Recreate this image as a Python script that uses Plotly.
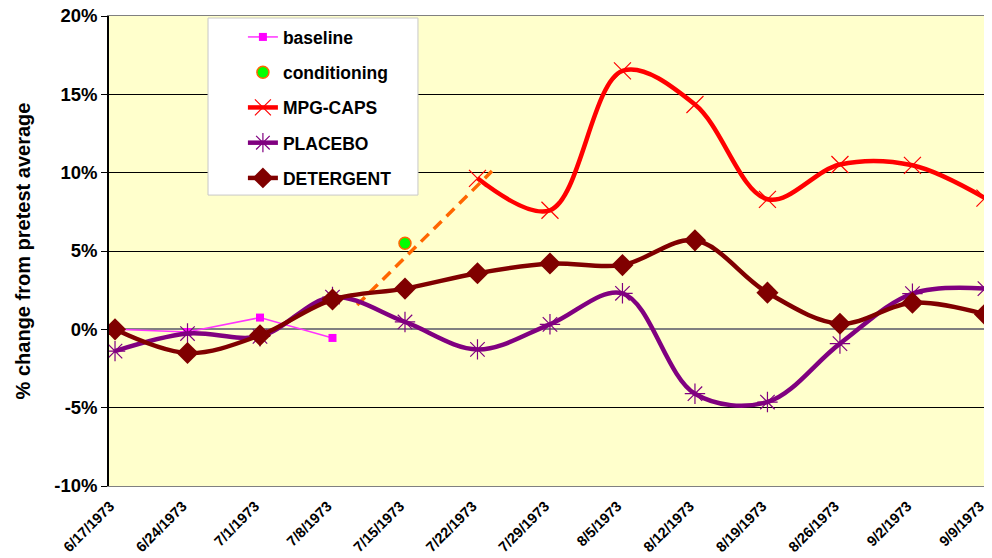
import plotly.graph_objects as go

dates = ["6/17/1973", "6/24/1973", "7/1/1973", "7/8/1973", "7/15/1973", "7/22/1973",
         "7/29/1973", "8/5/1973", "8/12/1973", "8/19/1973", "8/26/1973", "9/2/1973", "9/9/1973"]
idx = list(range(len(dates)))

baseline = [0.0, -0.17, 0.75, -0.55]
conditioning_x = [4]
conditioning = [5.5]
mpg_caps = [None, None, None, None, None, 9.64, 7.6, 16.5, 14.35, 8.3, 10.52, 10.47, 8.38]
placebo = [-1.39, -0.27, -0.45, 2.06, 0.47, -1.28, 0.32, 2.3, -4.11, -4.64, -0.91, 2.28, 2.6]
detergent = [0.0, -1.51, -0.38, 1.9, 2.6, 3.58, 4.2, 4.1, 5.68, 2.34, 0.36, 1.7, 0.96]
trend_x = [3.34, 5.2]
trend_y = [1.55, 10.1]

ytick_vals = [-10, -5, 0, 5, 10, 15, 20]
ytick_text = ["-10%", "-5%", "0%", "5%", "10%", "15%", "20%"]

FONT = "Liberation Sans, Arial, sans-serif"

fig = go.Figure()

fig.add_trace(go.Scatter(x=trend_x, y=trend_y, mode="lines", showlegend=False,
                         line=dict(color="#FF6600", width=3.5, dash="11px,7px"),
                         hoverinfo="skip"))
fig.add_trace(go.Scatter(x=idx[:len(baseline)], y=baseline, name="<b>baseline</b>", legendgroup="a",
                         mode="lines+markers", line=dict(color="#FF33FF", width=1.5),
                         marker=dict(symbol="square", size=8, color="#FF00FF")))
fig.add_trace(go.Scatter(x=conditioning_x, y=conditioning, name="<b>conditioning</b>", legendgroup="b",
                         mode="markers",
                         marker=dict(symbol="circle", size=12, color="#00FF00",
                                     line=dict(color="#FF6600", width=1.5))))
fig.add_trace(go.Scatter(x=idx, y=mpg_caps, name="<b>MPG-CAPS</b>", legendgroup="c",
                         mode="lines+markers", line=dict(color="#FF0000", width=4.5, shape="spline", smoothing=1),
                         marker=dict(symbol="x-thin", size=17, color="#FF0000",
                                     line=dict(color="#FF0000", width=1.2))))
fig.add_trace(go.Scatter(x=idx, y=placebo, name="<b>PLACEBO</b>", legendgroup="d",
                         mode="lines+markers", line=dict(color="#800080", width=4.5, shape="spline", smoothing=1),
                         marker=dict(symbol="asterisk", size=17, color="#800080",
                                     line=dict(color="#800080", width=1.2))))
fig.add_trace(go.Scatter(x=idx, y=detergent, name="<b>DETERGENT</b>", legendgroup="e",
                         mode="lines+markers", line=dict(color="#800000", width=4.5, shape="spline", smoothing=1),
                         marker=dict(symbol="diamond", size=17, color="#800000")))

# page body has an 8px margin, so the figure is 8px smaller and margins compensate
fig.update_layout(
    width=984, height=550,
    margin=dict(l=101, r=2, t=8, b=72),
    paper_bgcolor="white",
    plot_bgcolor="#FFFFCC",
    font=dict(family=FONT, color="black"),
    legend=dict(x=0.152, y=0.9935, xanchor="left", yanchor="top",
                bgcolor="rgba(0,0,0,0)", borderwidth=0,
                font=dict(size=17.5, family=FONT, color="black"),
                tracegroupgap=9.5, traceorder="grouped"),
    showlegend=True,
    shapes=[dict(type="rect", xref="paper", yref="paper",
                 x0=0.1124, x1=0.3507, y0=0.619, y1=0.9957,
                 fillcolor="white", line=dict(color="#C8C8C8", width=1), layer="above")],
)

fig.update_xaxes(
    range=[-0.083, 12.07], automargin=False,
    tickvals=idx, ticktext=["<b>" + d + "</b>" for d in dates], tickangle=-45,
    tickfont=dict(size=14.5, family=FONT, color="black"),
    ticklabelshift=-5, ticklabelstandoff=5, ticklabeloverflow="allow",
    showgrid=False, zeroline=False,
    showline=True, linecolor="#808080", linewidth=1, mirror=True,
    ticks="",
)
fig.update_yaxes(
    range=[-10, 20], automargin=False,
    tickvals=ytick_vals, ticktext=["<b>" + t + "</b>" for t in ytick_text],
    tickfont=dict(size=18.5, family=FONT, color="black"),
    ticklabeloverflow="allow",
    showgrid=True, gridcolor="#000000", gridwidth=1,
    zeroline=True, zerolinecolor="#808080", zerolinewidth=2,
    showline=True, linecolor="#000000", linewidth=1.5, mirror=False,
    ticks="outside", ticklen=6, tickcolor="#000000",
    title=dict(text="<b>% change from pretest average</b>",
               font=dict(size=20, family=FONT, color="black"), standoff=18),
)

fig.write_html("out.html")
